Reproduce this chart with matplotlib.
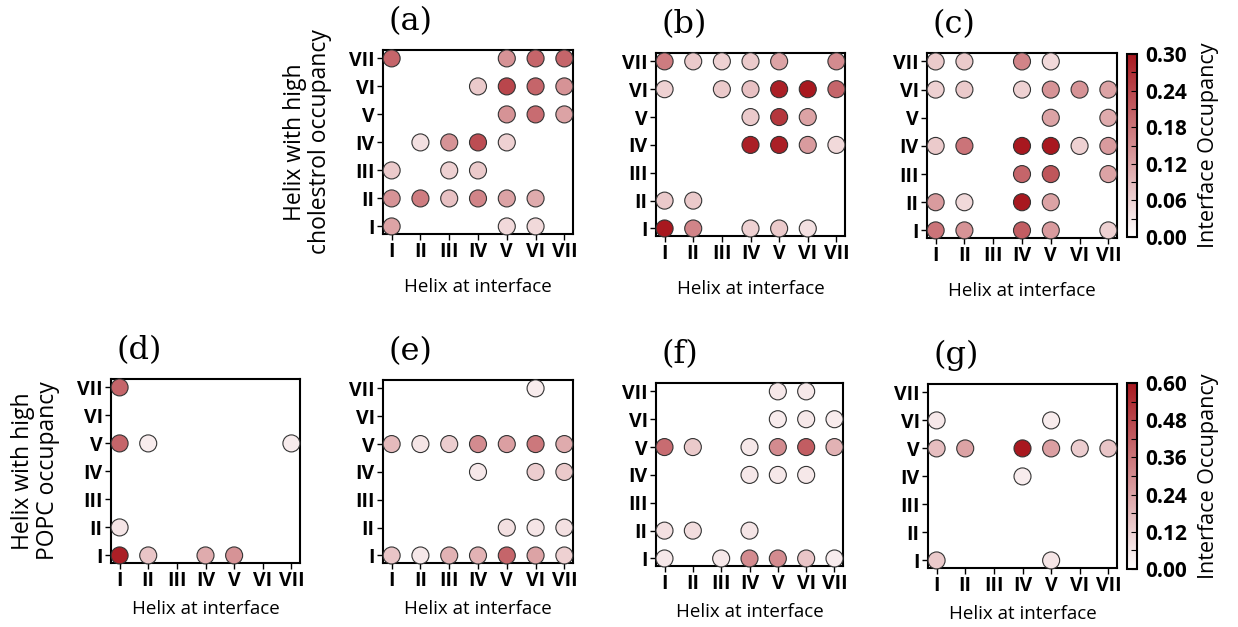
import numpy as np
import matplotlib.pyplot as plt
from matplotlib.colors import LinearSegmentedColormap, Normalize
from matplotlib.cm import ScalarMappable
from matplotlib.ticker import MultipleLocator

N = np.nan
helices = ["I", "II", "III", "IV", "V", "VI", "VII"]

# rows: y = VII (top) ... I (bottom); columns: x = I ... VII
occ_a = [
    [0.20, N, N, N, 0.14, 0.20, 0.20],
    [N, N, N, 0.07, 0.24, 0.20, 0.14],
    [N, N, N, N, 0.14, 0.19, 0.12],
    [N, 0.04, 0.14, 0.23, 0.06, N, N],
    [0.07, N, 0.06, 0.07, N, N, N],
    [0.14, 0.17, 0.08, 0.16, 0.12, 0.11, N],
    [0.12, N, N, N, 0.05, 0.05, N],
]
occ_b = [
    [0.17, 0.07, 0.06, 0.07, 0.12, N, 0.15],
    [0.06, N, 0.07, 0.08, 0.29, 0.30, 0.20],
    [N, N, N, 0.07, 0.26, 0.12, N],
    [N, N, N, 0.29, 0.29, 0.13, 0.05],
    [N, N, N, N, N, N, N],
    [0.07, 0.07, N, N, N, N, N],
    [0.30, 0.16, N, 0.06, 0.07, 0.04, N],
]
occ_c = [
    [0.07, 0.07, N, 0.16, 0.05, N, N],
    [0.06, 0.07, N, 0.06, 0.14, 0.14, 0.12],
    [N, N, N, N, 0.12, N, 0.11],
    [0.07, 0.18, N, 0.30, 0.30, 0.06, 0.13],
    [N, N, N, 0.20, 0.22, N, 0.12],
    [0.13, 0.05, N, 0.30, 0.12, N, N],
    [0.18, 0.14, N, 0.21, 0.13, N, 0.06],
]
occ_d = [
    [0.40, N, N, N, N, N, N],
    [N, N, N, N, N, N, N],
    [0.40, 0.05, N, N, N, N, 0.05],
    [N, N, N, N, N, N, N],
    [N, N, N, N, N, N, N],
    [0.07, N, N, N, N, N, N],
    [0.58, 0.15, N, 0.22, 0.28, N, N],
]
occ_e = [
    [N, N, N, N, N, 0.05, N],
    [N, N, N, N, N, N, N],
    [0.18, 0.07, 0.13, 0.30, 0.25, 0.35, 0.22],
    [N, N, N, 0.06, N, 0.13, 0.14],
    [N, N, N, N, N, N, N],
    [N, N, N, N, 0.08, 0.07, 0.08],
    [0.15, 0.06, 0.20, 0.20, 0.40, 0.24, 0.12],
]
occ_f = [
    [N, N, N, N, 0.06, 0.06, N],
    [N, N, N, N, 0.05, 0.06, 0.05],
    [0.38, 0.14, N, 0.06, 0.30, 0.42, 0.20],
    [N, N, N, 0.06, 0.06, 0.06, N],
    [N, N, N, N, N, N, N],
    [0.08, 0.09, N, 0.07, N, N, N],
    [0.06, N, 0.06, 0.30, 0.30, 0.15, 0.05],
]
occ_g = [
    [N, N, N, N, N, N, N],
    [0.06, N, N, N, 0.05, N, N],
    [0.17, 0.24, N, 0.60, 0.25, 0.13, 0.15],
    [N, N, N, 0.05, N, N, N],
    [N, N, N, N, N, N, N],
    [N, N, N, N, N, N, N],
    [0.14, N, N, N, 0.07, N, N],
]

W, H = 1238, 627
fig = plt.figure(figsize=(W / 100, H / 100), dpi=100)
cmap = LinearSegmentedColormap.from_list("wr", ["#ffffff", "#a8181f"])
tick_font = dict(family="Open Sans", weight="bold", size=14)
lab_font = dict(family="Open Sans", size=13.5)
ylab_font = dict(family="Open Sans", size=16.5)


def px_axes(l, r, t, b):
    return fig.add_axes([l / W, (H - b) / H, (r - l) / W, (b - t) / H])


def draw_panel(box, occ, vmax, tag, ylabel=None, xpad=11):
    ax = px_axes(*box)
    m = np.array(occ, dtype=float)[::-1]  # row 0 -> helix I
    ys, xs = np.where(~np.isnan(m))
    ax.scatter(xs, ys, c=m[ys, xs], cmap=cmap, vmin=0, vmax=vmax, s=150,
               edgecolors="#333333", linewidths=0.8, zorder=3, clip_on=False)
    ax.set_xlim(-0.3, 6.3)
    ax.set_ylim(-0.27, 6.3)
    ax.set_xticks(range(7))
    ax.set_yticks(range(7))
    ax.set_xticklabels(helices, **tick_font)
    ax.set_yticklabels(helices, **tick_font)
    ax.tick_params(length=4, width=1, pad=2)
    for sp in ax.spines.values():
        sp.set_linewidth(1.5)
    ax.set_xlabel("Helix at interface", labelpad=xpad, **lab_font)
    if ylabel:
        ax.set_ylabel(ylabel, labelpad=12, linespacing=1.05, **ylab_font)
    ax.text(0.03, 1.07, tag, transform=ax.transAxes, family="DejaVu Serif",
            fontsize=23, ha="left", va="bottom")
    return ax


def draw_cbar(box, vmax, step):
    cax = px_axes(*box)
    sm = ScalarMappable(norm=Normalize(0, vmax), cmap=cmap)
    cb = fig.colorbar(sm, cax=cax)
    ticks = np.linspace(0, vmax, 6)
    cb.set_ticks(ticks)
    cb.set_ticklabels([f"{t:.2f}" for t in ticks],
                      **dict(family="Open Sans", weight="bold", size=15))
    cax.yaxis.set_minor_locator(MultipleLocator(step))
    cax.tick_params(which="both", direction="in", length=4, width=0.8, pad=6)
    cb.outline.set_linewidth(1.5)
    cb.set_label("Interface Occupancy", labelpad=8,
                 **dict(family="Open Sans", size=15.5))


draw_panel((383, 573, 50, 234), occ_a, 0.30, "(a)",
           "Helix with high\ncholestrol occupancy")
draw_panel((656, 845, 53, 236), occ_b, 0.30, "(b)")
draw_panel((927, 1117, 53, 238), occ_c, 0.30, "(c)")
draw_cbar((1127, 1137, 54, 237), 0.30, 0.03)

draw_panel((111, 300, 379, 563), occ_d, 0.60, "(d)",
           "Helix with high\nPOPC occupancy", xpad=6)
draw_panel((383, 573, 380, 563), occ_e, 0.60, "(e)", xpad=6)
draw_panel((656, 843, 383, 566), occ_f, 0.60, "(f)", xpad=6)
draw_panel((928, 1117, 384, 568), occ_g, 0.60, "(g)", xpad=6)
draw_cbar((1127, 1137, 383, 569), 0.60, 0.06)

fig.savefig("out.png", dpi=100, facecolor="white")
